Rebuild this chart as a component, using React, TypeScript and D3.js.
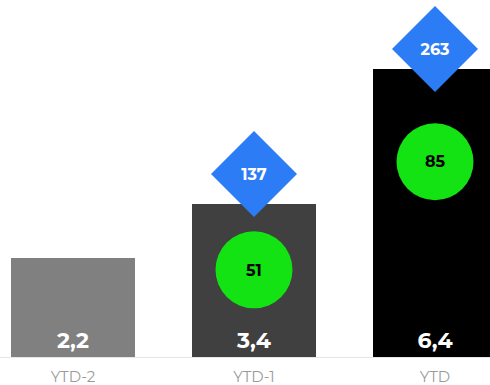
import React from "react";
import * as d3 from "d3";

const categories = ["YTD-2", "YTD-1", "YTD"];
const barValues = [2.2, 3.4, 6.4];
const barLabels = ["2,2", "3,4", "6,4"];
const circleValues = [null, 51, 85];
const diamondValues = [null, 137, 263];
const barColors = ["#808080", "#404040", "#000000"];

const W = 490;
const H = 385;
const baseY = 357;

export default function App() {
  const x = d3.scaleBand<string>().domain(categories).range([11, 497]).paddingInner(0.315).paddingOuter(0);
  const y = d3.scaleLinear().domain([0, 8]).range([baseY, baseY - 8 * 45]);
  const yCircle = d3.scaleLinear().domain([0, 100]).range([432, 114]);
  const yDiamond = d3.scaleLinear().domain([0, 300]).range([310, 12.4]);
  const bw = x.bandwidth();
  const dHalf = 43;
  const font = "Montserrat, 'Open Sans', 'DejaVu Sans', sans-serif";
  return (
    <svg width={W} height={H} style={{ position: "absolute", left: 0, top: 0 }}>
      <rect x={0} y={0} width={W} height={H} fill="#fff" />
      <line x1={0} x2={W} y1={baseY + 0.5} y2={baseY + 0.5} stroke="#e6e6e6" strokeWidth={1} />
      {categories.map((c, i) => {
        const x0 = x(c)!;
        const cx = x0 + bw / 2;
        const cv = circleValues[i];
        const dv = diamondValues[i];
        return (
          <g key={c}>
            <rect x={x0} y={y(barValues[i])} width={bw} height={baseY - y(barValues[i])} fill={barColors[i]} />
            <text x={cx} y={348} textAnchor="middle" fill="#fff" fontFamily={font} fontWeight={700} fontSize={22}>
              {barLabels[i]}
            </text>
            <text x={cx} y={382} textAnchor="middle" fill="#9a9a9a" fontFamily={font} fontWeight={400} fontSize={15}>
              {c}
            </text>
            {cv != null && (
              <g>
                <circle cx={cx} cy={yCircle(cv)} r={38.5} fill="#13e213" />
                <text x={cx} y={yCircle(cv)} dy="0.36em" textAnchor="middle" fill="#000" fontFamily={font} fontWeight={700} fontSize={16}>
                  {cv}
                </text>
              </g>
            )}
            {dv != null && (
              <g>
                <path
                  d={`M${cx},${yDiamond(dv) - dHalf} L${cx + dHalf},${yDiamond(dv)} L${cx},${yDiamond(dv) + dHalf} L${cx - dHalf},${yDiamond(dv)} Z`}
                  fill="#2c7cf6"
                />
                <text x={cx} y={yDiamond(dv)} dy="0.36em" textAnchor="middle" fill="#fff" fontFamily={font} fontWeight={700} fontSize={16}>
                  {dv}
                </text>
              </g>
            )}
          </g>
        );
      })}
    </svg>
  );
}
